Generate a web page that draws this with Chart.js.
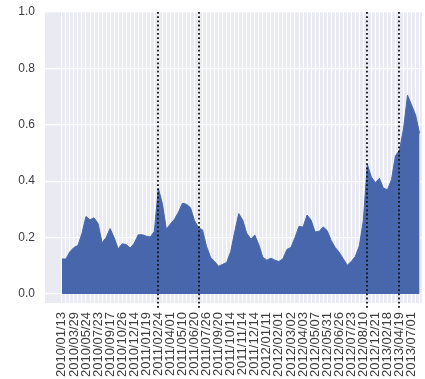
<!DOCTYPE html>
<html>
<head>
<meta charset="utf-8">
<script src="https://cdn.jsdelivr.net/npm/chart.js@4/dist/chart.umd.min.js"></script>
<style>
  html, body { margin: 0; padding: 0; background: #ffffff; }
  #wrap { width: 425px; height: 379px; }
</style>
</head>
<body>
<div id="wrap"><canvas id="c" width="425" height="379"></canvas></div>
<script>
// Labels shown under every third observation
const tickLabels = [
  '2010/01/13', '2010/03/29', '2010/05/24', '2010/07/23', '2010/09/17', '2010/10/26',
  '2010/12/14', '2011/01/19', '2011/02/24', '2011/04/01', '2011/05/10', '2011/06/20',
  '2011/07/26', '2011/09/20', '2011/10/14', '2011/11/14', '2011/12/14', '2012/01/11',
  '2012/02/01', '2012/03/02', '2012/04/03', '2012/05/07', '2012/05/31', '2012/06/26',
  '2012/07/23', '2012/08/10', '2012/12/21', '2013/02/18', '2013/04/19', '2013/07/01'
];

// One value per observation
const values = [
  0.124, 0.124, 0.150, 0.165, 0.172, 0.215, 0.275, 0.263, 0.270, 0.250,
  0.182, 0.200, 0.232, 0.200, 0.160, 0.178, 0.175, 0.163, 0.180, 0.210,
  0.210, 0.205, 0.202, 0.222, 0.375, 0.320, 0.230, 0.248, 0.265, 0.290,
  0.322, 0.318, 0.306, 0.260, 0.235, 0.227, 0.168, 0.130, 0.115, 0.098,
  0.105, 0.112, 0.150, 0.220, 0.285, 0.262, 0.215, 0.195, 0.209, 0.175,
  0.130, 0.120, 0.127, 0.120, 0.115, 0.125, 0.158, 0.165, 0.200, 0.240,
  0.237, 0.280, 0.262, 0.220, 0.222, 0.238, 0.225, 0.190, 0.165, 0.148,
  0.125, 0.102, 0.115, 0.133, 0.170, 0.260, 0.460, 0.415, 0.395, 0.410,
  0.375, 0.370, 0.405, 0.490, 0.510, 0.585, 0.705, 0.670, 0.635, 0.570
];

// Observations marked with vertical dotted lines
const eventIndices = [24, 34, 76, 84];

const yTicks = [0, 0.2, 0.4, 0.6, 0.8, 1.0];

const points = values.map((v, i) => ({ x: i, y: v }));

const panelBackground = {
  id: 'panelBackground',
  beforeDraw(chart) {
    const { ctx, chartArea: a } = chart;
    ctx.save();
    ctx.fillStyle = '#eaeaf2';
    ctx.fillRect(a.left, a.top, a.right - a.left, a.bottom - a.top);
    ctx.restore();
  }
};

const eventLines = {
  id: 'eventLines',
  afterDatasetsDraw(chart) {
    const { ctx, chartArea: a, scales } = chart;
    ctx.save();
    ctx.strokeStyle = '#111111';
    ctx.lineWidth = 1.8;
    ctx.setLineDash([1.8, 2.4]);
    eventIndices.forEach(i => {
      const x = Math.round(scales.x.getPixelForValue(i));
      ctx.beginPath();
      ctx.moveTo(x, a.top);
      ctx.lineTo(x, a.bottom + 6);
      ctx.stroke();
    });
    ctx.restore();
  }
};

new Chart(document.getElementById('c'), {
  type: 'line',
  data: {
    datasets: [{
      data: points,
      fill: 'origin',
      backgroundColor: '#4866ab',
      borderColor: '#4866ab',
      borderWidth: 1,
      pointRadius: 0,
      tension: 0
    }]
  },
  options: {
    responsive: false,
    animation: false,
    events: [],
    layout: { padding: { top: 12, right: 3, left: 0, bottom: 0 } },
    plugins: { legend: { display: false }, tooltip: { enabled: false } },
    scales: {
      x: {
        type: 'linear',
        min: -4.2,
        max: 89.6,
        afterBuildTicks(scale) {
          scale.ticks = values.map((v, i) => ({ value: i }));
        },
        afterFit(scale) {
          scale.height = 76;
          scale.paddingLeft = 0;
          scale.paddingRight = 0;
        },
        grid: { color: '#ffffff', lineWidth: 1, drawTicks: false },
        border: { display: false },
        ticks: {
          autoSkip: false,
          minRotation: 90,
          maxRotation: 90,
          padding: 9,
          color: '#3c3c3c',
          font: { family: '"Liberation Sans", Arial, sans-serif', size: 13 },
          callback(value) {
            return value % 3 === 0 ? tickLabels[value / 3] : '';
          }
        }
      },
      y: {
        min: -0.032,
        max: 1.0,
        afterBuildTicks(scale) {
          scale.ticks = yTicks.map(v => ({ value: v }));
        },
        afterFit(scale) {
          scale.width = 45;
          scale.paddingTop = 0;
          scale.paddingBottom = 0;
        },
        grid: { color: '#ffffff', lineWidth: 1.2, drawTicks: false },
        border: { display: false },
        ticks: {
          padding: 10,
          color: '#3c3c3c',
          font: { family: '"Liberation Sans", Arial, sans-serif', size: 12 },
          callback(value) { return Number(value).toFixed(1); }
        }
      }
    }
  },
  plugins: [panelBackground, eventLines]
});
</script>
</body>
</html>
